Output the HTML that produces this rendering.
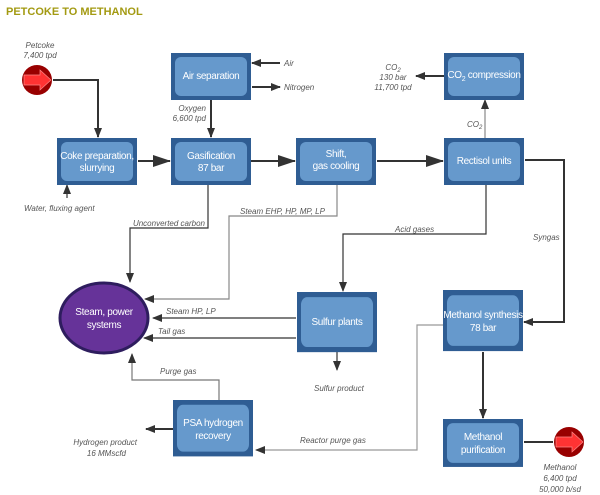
<!DOCTYPE html>
<html><head><style>
body{margin:0;background:#fff}
svg{display:block}
text{font-family:"Liberation Sans",sans-serif}
.l{font-size:8px;font-style:italic;fill:#555}
.b{font-size:10px;fill:#fff;text-anchor:middle;letter-spacing:-0.35px}
</style></head><body>
<svg width="600" height="495" viewBox="0 0 600 495">
<defs>
<marker id="a" markerWidth="10" markerHeight="8" refX="9" refY="4" orient="auto" markerUnits="userSpaceOnUse"><path d="M0,0L10,4L0,8z" fill="#333"/></marker>
<marker id="big" markerWidth="18" markerHeight="12" refX="17" refY="6" orient="auto" markerUnits="userSpaceOnUse"><path d="M0,0L18,6L0,12z" fill="#333"/></marker>
<g id="box"><rect x="0" y="0" width="80" height="47" fill="#2f5d93"/><rect x="4" y="4" width="72" height="39" rx="6" fill="#6699cc"/></g>
</defs>
<text x="6" y="15" font-size="11" font-weight="bold" fill="#a39a12">PETCOKE TO METHANOL</text>

<g stroke="#333" stroke-width="2" fill="none">
<path d="M53,80H98V137" marker-end="url(#a)"/>
<path d="M138,161H170" marker-end="url(#big)"/>
<path d="M251,161H295" marker-end="url(#big)"/>
<path d="M377,161H443" marker-end="url(#big)"/>
<path d="M211,100V137" marker-end="url(#a)"/>
<path d="M280,63H252" marker-end="url(#a)"/>
<path d="M252,87H280" marker-end="url(#a)"/>
<path d="M444,76H416" marker-end="url(#a)"/>
<path d="M525,160H564V322H524" marker-end="url(#a)"/>
<path d="M483,352V418" marker-end="url(#a)"/>
<path d="M524,442H553" />
<path d="M173,429H146" marker-end="url(#a)"/>
</g>
<g stroke="#333" stroke-width="1.2" fill="none">
<path d="M67,198V185" marker-end="url(#a)"/>
<path d="M485,138V100" stroke="#888" marker-end="url(#a)"/>
<path d="M486,185V234H343V291" marker-end="url(#a)"/>
<path d="M337,352V370" marker-end="url(#a)"/>
<path d="M296,318H153" marker-end="url(#a)"/>
<path d="M296,338H144" marker-end="url(#a)"/>
</g>
<g stroke="#999" stroke-width="1.2" fill="none">
<path d="M208,185V228H130V282" stroke="#333" marker-end="url(#a)"/>
<path d="M337,185V216H229V299H145" stroke="#888" marker-end="url(#a)"/>
<path d="M219,400V380H132V354" stroke="#777" marker-end="url(#a)"/>
<path d="M443,325H417V450H256" stroke="#999" marker-end="url(#a)"/>
</g>

<use href="#box" x="171" y="53"/>
<use href="#box" x="57" y="138"/>
<use href="#box" x="171" y="138"/>
<use href="#box" x="296" y="138"/>
<use href="#box" x="444" y="138"/>
<use href="#box" x="444" y="53"/>
<g transform="translate(297,292) scale(1,1.28)"><use href="#box"/></g>
<g transform="translate(443,290) scale(1,1.3)"><use href="#box"/></g>
<g transform="translate(443,419) scale(1,1.02)"><use href="#box"/></g>
<g transform="translate(173,400) scale(1,1.2)"><use href="#box"/></g>

<text class="b" x="211" y="79">Air separation</text>
<text class="b" x="97" y="159">Coke preparation,</text><text class="b" x="97" y="171">slurrying</text>
<text class="b" x="211" y="159">Gasification</text><text class="b" x="211" y="171">87 bar</text>
<text class="b" x="336" y="157">Shift,</text><text class="b" x="336" y="169">gas cooling</text>
<text class="b" x="484" y="164">Rectisol units</text>
<text class="b" x="484" y="78">CO<tspan font-size="7" dy="3">2</tspan><tspan dy="-3"> compression</tspan></text>
<text class="b" x="337" y="325">Sulfur plants</text>
<text class="b" x="483" y="318">Methanol synthesis</text><text class="b" x="483" y="331">78 bar</text>
<text class="b" x="483" y="440">Methanol</text><text class="b" x="483" y="453">purification</text>
<text class="b" x="213" y="426">PSA hydrogen</text><text class="b" x="213" y="439">recovery</text>

<ellipse cx="104" cy="318" rx="44" ry="35" fill="#663399" stroke="#2e1d5e" stroke-width="3"/>
<text class="b" x="104" y="315">Steam, power</text><text class="b" x="104" y="328">systems</text>

<circle cx="37" cy="80" r="15" fill="#990000"/>
<path d="M24,75H40V70L51,80L40,90V85H24z" fill="#ff3333" stroke="#ff8888" stroke-width="0.7"/>
<circle cx="569" cy="442" r="15" fill="#990000"/>
<path d="M556,437H572V432L583,442L572,452V447H556z" fill="#ff3333" stroke="#ff8888" stroke-width="0.7"/>

<g class="l">
<text x="40" y="48" text-anchor="middle">Petcoke</text><text x="40" y="58" text-anchor="middle">7,400 tpd</text>
<text x="284" y="66">Air</text><text x="284" y="90">Nitrogen</text>
<text x="206" y="111" text-anchor="end">Oxygen</text><text x="206" y="121" text-anchor="end">6,600 tpd</text>
<text x="24" y="211">Water, fluxing agent</text>
<text x="205" y="226" text-anchor="end">Unconverted carbon</text>
<text x="240" y="214">Steam EHP, HP, MP, LP</text>
<text x="393" y="70" text-anchor="middle">CO<tspan font-size="6" dy="2">2</tspan></text>
<text x="393" y="80" text-anchor="middle">130 bar</text><text x="393" y="90" text-anchor="middle">11,700 tpd</text>
<text x="467" y="127">CO<tspan font-size="6" dy="2">2</tspan></text>
<text x="395" y="232">Acid gases</text>
<text x="533" y="240">Syngas</text>
<text x="166" y="314">Steam HP, LP</text>
<text x="158" y="334">Tail gas</text>
<text x="160" y="374">Purge gas</text>
<text x="314" y="391">Sulfur product</text>
<text x="300" y="443">Reactor purge gas</text>
<text x="137" y="445" text-anchor="end">Hydrogen product</text><text x="126" y="456" text-anchor="end">16 MMscfd</text>
<text x="560" y="470" text-anchor="middle">Methanol</text><text x="560" y="481" text-anchor="middle">6,400 tpd</text><text x="560" y="492" text-anchor="middle">50,000 b/sd</text>
</g>
</svg>
</body></html>
